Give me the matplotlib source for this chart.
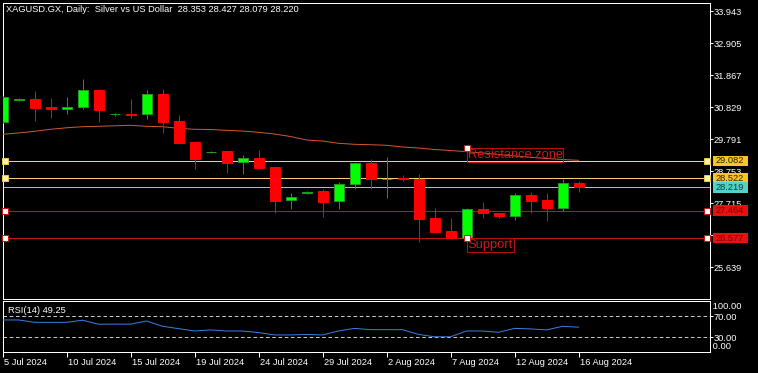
import matplotlib
matplotlib.use("Agg")
import matplotlib.pyplot as plt
import matplotlib.transforms as mtransforms
from matplotlib.patches import Rectangle

W, H, DPI = 758, 373, 100

# ---------------- data ----------------
dates = ['5 Jul 2024', '7 Jul 2024', '8 Jul 2024', '9 Jul 2024', '10 Jul 2024', '11 Jul 2024',
         '12 Jul 2024', '14 Jul 2024', '15 Jul 2024', '16 Jul 2024', '17 Jul 2024', '18 Jul 2024',
         '19 Jul 2024', '21 Jul 2024', '22 Jul 2024', '23 Jul 2024', '24 Jul 2024', '25 Jul 2024',
         '26 Jul 2024', '28 Jul 2024', '29 Jul 2024', '30 Jul 2024', '31 Jul 2024', '1 Aug 2024',
         '2 Aug 2024', '4 Aug 2024', '5 Aug 2024', '6 Aug 2024', '7 Aug 2024', '8 Aug 2024',
         '9 Aug 2024', '11 Aug 2024', '12 Aug 2024', '13 Aug 2024', '14 Aug 2024', '15 Aug 2024',
         '16 Aug 2024']
opens = [30.333, 31.070, 31.089, 30.829, 30.755, 30.820, 31.381, 30.590, 30.612, 30.592,
         31.251, 30.375, 29.694, 29.375, 29.402, 29.035, 29.175, 28.883, 27.803, 28.030,
         28.105, 27.770, 28.322, 29.013, 28.495, 28.510, 28.503, 27.219, 26.817, 26.590,
         27.521, 27.391, 27.303, 27.975, 27.813, 27.563, 28.353]
highs = [31.200, 31.121, 31.348, 31.121, 31.153, 31.737, 31.400, 30.644, 31.089, 31.381,
         31.413, 30.570, 29.700, 29.390, 29.410, 29.262, 29.434, 28.890, 28.040, 28.090,
         28.160, 28.396, 29.055, 29.142, 29.198, 28.614, 28.656, 27.553, 27.219, 27.563,
         27.748, 27.400, 28.030, 28.062, 28.050, 28.494, 28.427]
lows = [30.300, 31.034, 30.385, 30.482, 30.612, 30.774, 30.352, 30.528, 30.482, 30.450,
        29.996, 29.660, 28.828, 29.327, 28.698, 28.646, 28.818, 27.381, 27.530, 28.020,
        27.271, 27.511, 28.169, 28.179, 27.887, 28.439, 26.460, 26.770, 26.538, 26.570,
        27.219, 27.239, 27.174, 27.401, 27.131, 27.456, 28.079]
closes = [31.144, 31.080, 30.806, 30.774, 30.820, 31.371, 30.742, 30.595, 30.579, 31.241,
          30.352, 29.671, 29.152, 29.380, 29.022, 29.165, 28.851, 27.790, 27.900, 28.082,
          27.757, 28.322, 29.003, 28.484, 28.505, 28.500, 27.206, 26.784, 26.570, 27.511,
          27.401, 27.303, 27.975, 27.780, 27.563, 28.353, 28.220]
ma_values = [29.944, 29.986, 30.041, 30.106, 30.155, 30.190, 30.203, 30.220, 30.236, 30.203,
             30.190, 30.138, 30.106, 30.098, 30.073, 30.050, 30.009, 29.953, 29.872, 29.759,
             29.726, 29.652, 29.619, 29.606, 29.587, 29.532, 29.499, 29.451, 29.418, 29.380,
             29.337, 29.289, 29.240, 29.198, 29.159, 29.126, 29.100]
rsi_values = [63.0, 63.0, 58.5, 58.5, 58.5, 62.5, 55.0, 55.0, 55.0, 61.0,
              51.0, 46.5, 42.0, 44.0, 42.0, 42.0, 39.0, 34.5, 34.5, 35.5,
              34.5, 42.0, 47.0, 44.5, 44.5, 44.5, 35.5, 31.0, 31.0, 42.0,
              42.0, 39.5, 47.0, 46.0, 44.0, 51.0, 49.25]

price_ticks = [33.943, 32.905, 31.867, 30.829, 29.791, 28.753, 27.715, 26.677, 25.639]
tick_dates = ['5 Jul 2024', '10 Jul 2024', '15 Jul 2024', '19 Jul 2024', '24 Jul 2024',
              '29 Jul 2024', '2 Aug 2024', '7 Aug 2024', '12 Aug 2024', '16 Aug 2024']
resistance_lines = [29.082, 28.522]
support_lines = [27.464, 26.577]
bid_price = 28.219
resistance_text = 'Resistance zone'
resistance_anchor = ('8 Aug 2024', 29.49)
support_text = 'Support'
support_anchor = ('8 Aug 2024', 26.577)
title = 'XAGUSD.GX, Daily:  Silver vs US Dollar  28.353 28.427 28.079 28.220'
rsi_label = 'RSI(14) 49.25'
rsi_levels = [70, 30]

# ---------------- style ----------------
plt.rcParams['font.family'] = ['Liberation Sans', 'DejaVu Sans']
plt.rcParams['lines.scale_dashes'] = False
PX = 72.0 / DPI  # one pixel in points
FS = 6.7

BULL_FILL, BULL_EDGE = '#00ff00', '#1e9a1e'
BEAR_FILL, BEAR_EDGE = '#ff0000', '#ff0000'
MA_COLOR = '#d2552f'
YEL_LINE, YEL_BOX, YEL_TXT = '#f2d070', '#f7c623', '#2a2000'
RED_LINE, RED_BOX, RED_TXT = '#c41414', '#e81010', '#7a0000'
CYAN_LINE, CYAN_BOX, CYAN_TXT = '#7fd0d0', '#55d0c8', '#103c3c'
LABEL_RED = '#d01818'

fig = plt.figure(figsize=(W / DPI, H / DPI), dpi=DPI, facecolor='black')


def px_rect(l, t, r, b):
    return [l / W, 1 - b / H, (r - l) / W, (b - t) / H]


ax = fig.add_axes(px_rect(2.5, 2.5, 710, 299))
axr = fig.add_axes(px_rect(2.5, 301, 710, 352))
BAR_PX = 16.0
x_max = (710 - 2.5) / BAR_PX
for a in (ax, axr):
    a.set_facecolor('black')
    a.set_xlim(0, x_max)
    for s in a.spines.values():
        s.set_color('white')
        s.set_linewidth(PX)

ax.set_ylim(24.601, 34.219)
axr.set_ylim(2.0, 99.1)

# ---------------- candles ----------------
bw = 10.0 / BAR_PX
for i in range(len(dates)):
    o, h, l, c = opens[i], highs[i], lows[i], closes[i]
    up = c >= o
    wick = BULL_EDGE if up else BEAR_EDGE
    ax.vlines(i, l, h, color=wick, lw=PX, zorder=4)
    bottom = min(o, c)
    height = max(abs(c - o), 0.001)
    ax.add_patch(Rectangle((i - bw / 2, bottom), bw, height,
                           facecolor=BULL_FILL if up else BEAR_FILL,
                           edgecolor=BULL_EDGE if up else BEAR_EDGE,
                           lw=PX, zorder=5))

ax.plot(range(len(ma_values)), ma_values, color=MA_COLOR, lw=PX, zorder=3)

# ---------------- horizontal levels ----------------
ytrans = mtransforms.blended_transform_factory(ax.transAxes, ax.transData)
for p in resistance_lines:
    ax.axhline(p, color=YEL_LINE, lw=PX, zorder=2)
    ax.plot([0.0035, 0.9958], [p, p], 's', ms=4.2, mfc='#fff2a8', mec='#e8c84a',
            mew=PX, transform=ytrans, zorder=6, clip_on=False)
for p in support_lines:
    ax.axhline(p, color=RED_LINE, lw=PX, zorder=2)
    ax.plot([0.0035, 0.9958], [p, p], 's', ms=4.2, mfc='white', mec=RED_LINE,
            mew=PX, transform=ytrans, zorder=6, clip_on=False)
ax.axhline(bid_price, color=CYAN_LINE, lw=PX, zorder=2)

# ---------------- text labels on chart ----------------
for txt, (d, p) in ((resistance_text, resistance_anchor), (support_text, support_anchor)):
    xi = dates.index(d)
    t = ax.text(xi, p, txt, color=LABEL_RED, fontsize=9.3, ha='left', va='top', zorder=7,
                bbox=dict(boxstyle='square,pad=0.07', fc='none', ec='#b81010', lw=PX))
    t.set_transform(ax.transData + mtransforms.ScaledTranslation(1 / DPI, -1 / DPI, fig.dpi_scale_trans))
    ax.plot([xi], [p], 's', ms=4.2, mfc='white', mec=LABEL_RED, mew=PX, zorder=8)

# ---------------- price axis ----------------
ax.yaxis.tick_right()
ax.set_yticks(price_ticks)
ax.set_yticklabels([f'{v:.3f}' for v in price_ticks])
ax.tick_params(axis='y', colors='white', length=3 * PX, width=PX, pad=0.6, labelsize=FS)
ax.tick_params(axis='x', bottom=False, labelbottom=False)

# price boxes on the right
units_per_px = (34.219 - 24.601) / 296.5
box_h = 10.6 * units_per_px
ftrans = mtransforms.blended_transform_factory(fig.transFigure, ax.transData)
boxes = [(resistance_lines[0], YEL_BOX, YEL_TXT), (resistance_lines[1], YEL_BOX, YEL_TXT),
         (bid_price, CYAN_BOX, CYAN_TXT), (support_lines[0], RED_BOX, RED_TXT),
         (support_lines[1], RED_BOX, RED_TXT)]
for p, fc, tc in boxes:
    r = Rectangle((713 / W, p - box_h / 2), 34.5 / W, box_h, transform=ftrans,
                  facecolor=fc, edgecolor='none', clip_on=False, zorder=20)
    fig.add_artist(r)
    fig.text(730 / W, p, f'{p:.3f}', transform=ftrans, color=tc, fontsize=FS,
             ha='center', va='center', zorder=21)

# ---------------- RSI ----------------
axr.plot(range(len(rsi_values)), rsi_values, color='#3b7ddc', lw=PX, zorder=3)
for lv in rsi_levels:
    axr.axhline(lv, color='#c8c8c8', lw=PX, ls=(0, (2.6, 1.9)), zorder=2)
axr.yaxis.tick_right()
axr.set_yticks(rsi_levels)
axr.set_yticklabels([f'{v:.2f}' for v in rsi_levels])
axr.tick_params(axis='y', colors='white', length=3 * PX, width=PX, pad=0.6, labelsize=FS)
axr.text(1.0, (352 - 306.7) / 51, ' 100.00', transform=axr.transAxes, color='white',
         fontsize=FS, ha='left', va='center')
axr.text(1.0, (352 - 346.7) / 51, ' 0.00', transform=axr.transAxes, color='white',
         fontsize=FS, ha='left', va='center')
axr.text(6 / 707.5, (352 - 310.7) / 51, rsi_label, transform=axr.transAxes, color='white',
         fontsize=FS, ha='left', va='center')

axr.set_xticks([dates.index(d) for d in tick_dates])
axr.set_xticklabels(tick_dates)
axr.tick_params(axis='x', colors='white', length=5 * PX, width=PX, pad=0.8, labelsize=FS)
off = mtransforms.ScaledTranslation(1 / DPI, 0, fig.dpi_scale_trans)
for lab in axr.get_xticklabels():
    lab.set_horizontalalignment('left')
    lab.set_transform(lab.get_transform() + off)

# ---------------- title ----------------
fig.text(6 / W, 1 - 10 / H, title, color='white', fontsize=FS, ha='left', va='center')

fig.savefig('out.png', dpi=DPI, facecolor='black')
